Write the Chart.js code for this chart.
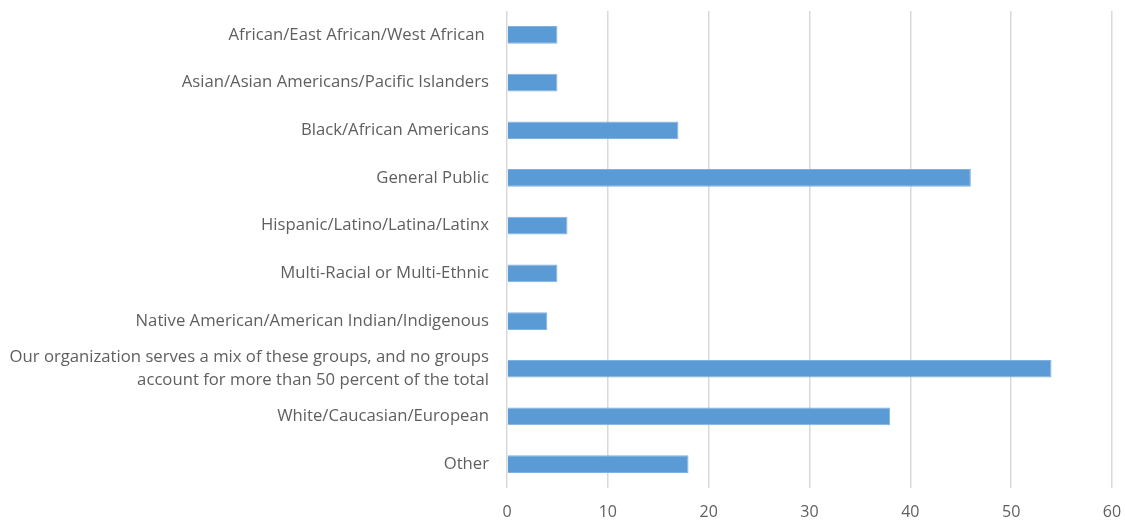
<!DOCTYPE html>
<html>
<head>
<meta charset="utf-8">
<script src="https://cdn.jsdelivr.net/npm/chart.js@4/dist/chart.umd.min.js"></script>
<style>
html,body{margin:0;padding:0;background:#fff;}
#wrap{width:1125px;height:523px;position:relative;}
</style>
</head>
<body>
<div id="wrap"><canvas id="c" width="1125" height="523"></canvas></div>
<script>
const categories = [
  "African/East African/West African ",
  "Asian/Asian Americans/Pacific Islanders",
  "Black/African Americans",
  "General Public",
  "Hispanic/Latino/Latina/Latinx",
  "Multi-Racial or Multi-Ethnic",
  "Native American/American Indian/Indigenous",
  ["Our organization serves a mix of these groups, and no groups", "account for more than 50 percent of the total"],
  "White/Caucasian/European",
  "Other"
];
const counts = [5, 5, 17, 46, 6, 5, 4, 54, 38, 18];
const xTicks = [0, 10, 20, 30, 40, 50, 60];

const textColor = '#5f5f5f';
const yFont = {family: '"Open Sans", Lato, sans-serif', size: 16.7, lineHeight: 1.32};
const xFont = {family: '"Open Sans", Lato, sans-serif', size: 16, lineHeight: 1.2};

new Chart(document.getElementById('c'), {
  type: 'bar',
  data: {
    labels: categories,
    datasets: [{
      data: counts,
      backgroundColor: '#5B9BD5',
      borderColor: '#7fb2e0',
      borderWidth: 1,
      categoryPercentage: 0.6,
      barPercentage: 0.62
    }]
  },
  options: {
    indexAxis: 'y',
    responsive: false,
    animation: false,
    layout: {padding: {top: 11, right: 13, left: 0, bottom: 0}},
    plugins: {legend: {display: false}, tooltip: {enabled: false}},
    scales: {
      x: {
        min: 0, max: 60,
        afterBuildTicks: s => { s.ticks = xTicks.map(v => ({value: v})); },
        afterFit: s => { s.height = 35; s.paddingLeft = 0; s.paddingRight = 0; },
        grid: {color: '#d9d9d9', lineWidth: 1.5, drawTicks: false},
        border: {display: false},
        ticks: {color: textColor, font: xFont, padding: 15}
      },
      y: {
        afterFit: s => { s.width = 507; s.paddingTop = 0; s.paddingBottom = 0; },
        grid: {display: false, drawTicks: false},
        border: {display: false},
        ticks: {color: textColor, font: yFont, padding: 18, autoSkip: false}
      }
    }
  }
});
</script>
</body>
</html>
